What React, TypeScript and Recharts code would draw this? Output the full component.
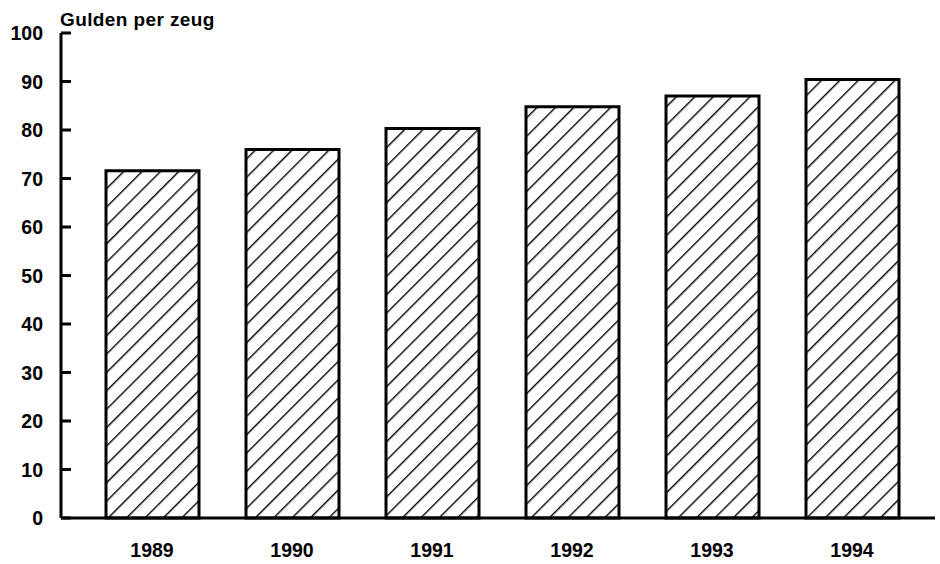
import { Bar, BarChart, XAxis, YAxis } from "recharts";

const years = ["1989", "1990", "1991", "1992", "1993", "1994"];
const guldenPerZeug = [71.6, 76.0, 80.3, 84.8, 87.0, 90.4];
const yTicks = [0, 10, 20, 30, 40, 50, 60, 70, 80, 90, 100];

const data = years.map((year, i) => ({ year, value: guldenPerZeug[i] }));

const FONT = "'Liberation Sans', Arial, sans-serif";

function YTick(props: any) {
  const { x, y, payload } = props;
  return (
    <g>
      <line x1={x} y1={y} x2={x + 10} y2={y} stroke="#000" strokeWidth={3} />
      <text x={x - 18} y={y} dy="0.38em" textAnchor="end" fontFamily={FONT} fontWeight={700} fontSize={19.5} fill="#000">
        {payload.value}
      </text>
    </g>
  );
}

export default function App() {
  return (
    <div style={{ position: "absolute", left: 0, top: 0, width: 940, height: 564, background: "#fff" }}>
      <BarChart width={940} height={564} data={data} margin={{ top: 33, right: 5, bottom: 6, left: 11 }}>
        <defs>
          <pattern id="hatch" patternUnits="userSpaceOnUse" width={13} height={13} patternTransform="rotate(45)">
            <rect width={13} height={13} fill="#fff" />
            <line x1={0} y1={0} x2={0} y2={13} stroke="#000" strokeWidth={2.8} />
          </pattern>
        </defs>
        <text x={60} y={26} fontFamily={FONT} fontWeight={700} fontSize={19} letterSpacing={0.4} fill="#000">
          Gulden per zeug
        </text>
        <XAxis
          dataKey="year"
          axisLine={{ stroke: "#000", strokeWidth: 3 }}
          tickLine={false}
          tickSize={0}
          tickMargin={25}
          height={40}
          padding={{ left: 21, right: 13 }}
          tick={{ fill: "#000", fontFamily: FONT, fontWeight: 700, fontSize: 19.5 }}
        />
        <YAxis
          domain={[0, 100]}
          ticks={yTicks}
          width={50}
          axisLine={{ stroke: "#000", strokeWidth: 3 }}
          tickLine={false}
          tickSize={0}
          tickMargin={0}
          tick={<YTick />}
        />
        <Bar dataKey="value" barSize={93} fill="url(#hatch)" stroke="#000" strokeWidth={3} isAnimationActive={false} />
      </BarChart>
    </div>
  );
}
